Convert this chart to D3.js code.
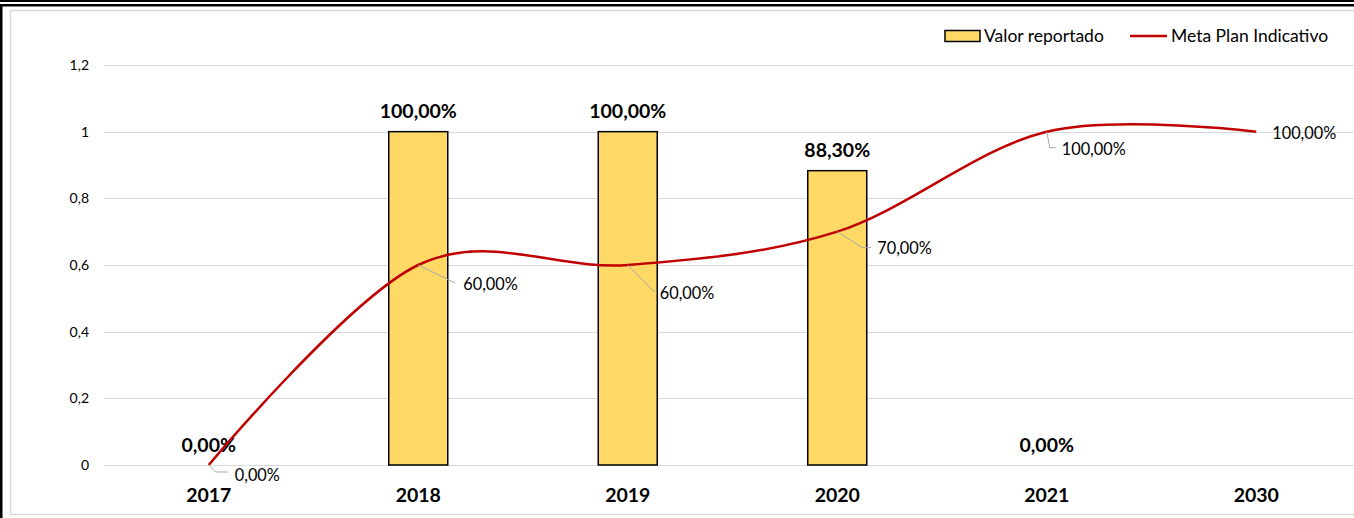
<!DOCTYPE html>
<meta charset="utf-8">
<style>
body { margin: 0; background: #fff; }
svg { display: block; font-family: Lato, "Open Sans", sans-serif; }
.grid line { stroke: #d9d9d9; stroke-width: 1px; }
.ytick { font-size: 14px; fill: #000; text-anchor: end; }
.xtick { font-size: 19.5px; font-weight: bold; fill: #000; text-anchor: middle; }
.barlabel { font-size: 19.5px; font-weight: bold; fill: #000; text-anchor: middle; }
.linelabel { font-size: 16.3px; fill: #000; }
.legend { font-size: 17.5px; fill: #000; }
</style>
<svg width="1354" height="518"></svg>
<script src="https://d3js.org/d3.v7.min.js"></script>
<script>

// data
var years = ["2017", "2018", "2019", "2020", "2021", "2030"];
var reportado = [0, 1, 1, 0.883, 0, null];
var meta = [0, 0.6, 0.6, 0.7, 1, 1];
var yTicks = [0, 0.2, 0.4, 0.6, 0.8, 1, 1.2];

// where each meta label sits relative to its point (leader line elbow + text)
var metaLabelPos = [
  {dx: 26, dy: 10, leader: [[7, 7], [19, 7]]},
  {dx: 45, dy: 19, leader: [[37, 18]]},
  {dx: 32, dy: 28, leader: [[27, 27]]},
  {dx: 40, dy: 17, leader: [[25, 16], [34, 16]]},
  {dx: 15, dy: 18, leader: [[3, 16], [9, 16]]},
  {dx: 16, dy: 2, leader: []}
];

var fmt = function(v) { return d3.format(".2f")(v * 100).replace(".", ",") + "%"; };

var svg = d3.select("svg");

// outer frame (black double line) and chart area border
svg.append("rect").attr("x", 0).attr("y", 0).attr("width", 1354).attr("height", 2).attr("fill", "#000");
svg.append("rect").attr("x", 2).attr("y", 4).attr("width", 1352).attr("height", 2.5).attr("fill", "#000");
svg.append("rect").attr("x", 0).attr("y", 4).attr("width", 2.5).attr("height", 514).attr("fill", "#000");
svg.append("rect").attr("x", 10.5).attr("y", 10.5).attr("width", 1360).attr("height", 504)
  .attr("fill", "#fff").attr("stroke", "#d9d9d9").attr("stroke-width", 1.5);

var x = d3.scaleBand().domain(years).range([104, 1361]);
var y = d3.scaleLinear().domain([0, 1.2]).range([465, 65]);

// gridlines + y labels
var grid = svg.append("g").attr("class", "grid");
grid.selectAll("line").data(yTicks).enter().append("line")
  .attr("x1", 104).attr("x2", 1354)
  .attr("y1", function(d) { return Math.round(y(d)) + 0.5; })
  .attr("y2", function(d) { return Math.round(y(d)) + 0.5; });

svg.selectAll(".ytick").data(yTicks).enter().append("text")
  .attr("class", "ytick")
  .attr("x", 89)
  .attr("y", function(d) { return y(d); })
  .attr("dy", "0.35em")
  .text(function(d) { return String(d).replace(".", ","); });

svg.selectAll(".xtick").data(years).enter().append("text")
  .attr("class", "xtick")
  .attr("x", function(d) { return x(d) + x.bandwidth() / 2; })
  .attr("y", 495)
  .attr("dy", "0.35em")
  .text(function(d) { return d; });

// bars
var barW = 59;
var barData = years.map(function(d, i) { return {year: d, v: reportado[i]}; })
  .filter(function(d) { return d.v !== null; });

svg.selectAll(".bar").data(barData.filter(function(d) { return d.v > 0; })).enter().append("rect")
  .attr("class", "bar")
  .attr("x", function(d) { return x(d.year) + x.bandwidth() / 2 - barW / 2; })
  .attr("y", function(d) { return y(d.v); })
  .attr("width", barW)
  .attr("height", function(d) { return y(0) - y(d.v); })
  .attr("fill", "#ffd966")
  .attr("stroke", "#000")
  .attr("stroke-width", 1.5);

svg.selectAll(".barlabel").data(barData).enter().append("text")
  .attr("class", "barlabel")
  .attr("x", function(d) { return x(d.year) + x.bandwidth() / 2; })
  .attr("y", function(d) { return y(d.v) - 20; })
  .attr("dy", "0.35em")
  .text(function(d) { return fmt(d.v); });

// meta line
var pts = years.map(function(d, i) { return [x(d) + x.bandwidth() / 2, y(meta[i])]; });

svg.append("path")
  .attr("d", d3.line().curve(d3.curveCardinal.tension(0))(pts))
  .attr("fill", "none")
  .attr("stroke", "#c00000")
  .attr("stroke-width", 2.5);

// leader lines + labels
pts.forEach(function(p, i) {
  var pos = metaLabelPos[i];
  if (pos.leader.length) {
    var path = [[p[0], p[1]]].concat(pos.leader.map(function(l) { return [p[0] + l[0], p[1] + l[1]]; }));
    svg.append("path")
      .attr("d", d3.line()(path))
      .attr("fill", "none")
      .attr("stroke", "#a6a6a6")
      .attr("stroke-width", 1);
  }
  svg.append("text")
    .attr("class", "linelabel")
    .attr("x", p[0] + pos.dx)
    .attr("y", p[1] + pos.dy)
    .attr("dy", "0.35em")
    .text(fmt(meta[i]));
});

// legend
var lg = svg.append("g");
lg.append("rect").attr("x", 945).attr("y", 30.5).attr("width", 35).attr("height", 11)
  .attr("fill", "#ffd966").attr("stroke", "#000").attr("stroke-width", 1.5);
lg.append("text").attr("class", "legend").attr("x", 984).attr("y", 36).attr("dy", "0.35em").text("Valor reportado");
lg.append("line").attr("x1", 1130).attr("x2", 1167).attr("y1", 36).attr("y2", 36)
  .attr("stroke", "#c00000").attr("stroke-width", 2.5);
lg.append("text").attr("class", "legend").attr("x", 1171).attr("y", 36).attr("dy", "0.35em").text("Meta Plan Indicativo");

</script>
